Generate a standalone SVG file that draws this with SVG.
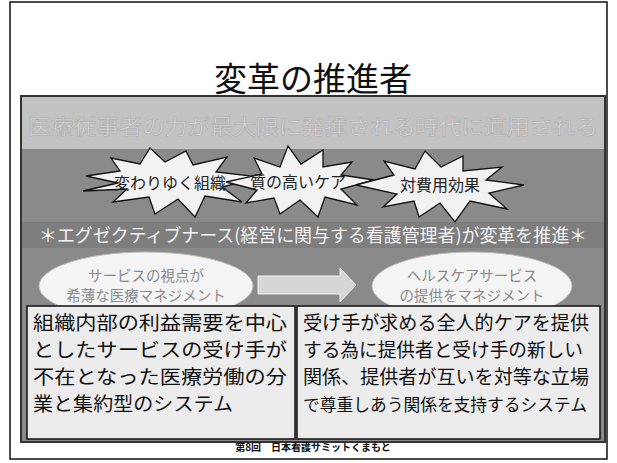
<svg xmlns="http://www.w3.org/2000/svg" width="617" height="463" viewBox="0 0 617 463">
<style>
text{font-family:"Noto Sans CJK JP","Noto Sans CJK SC",sans-serif;}
.star{fill:#f2f2f2;stroke:#111;stroke-width:1.3;stroke-linejoin:miter;}
.starT{font-size:16px;fill:#222;text-anchor:middle;}
.ell{fill:#f4f4f4;stroke:#bbb;stroke-width:1;}
.ellT{font-size:14.5px;fill:#8a8a8a;text-anchor:middle;}
.box{fill:#ececec;stroke:#111;stroke-width:1.5;}
.boxT{font-size:19px;fill:#111;}
</style>
<rect x="0" y="0" width="617" height="463" fill="#ffffff"/>
<rect x="10" y="2" width="597" height="457" fill="#ffffff" stroke="#111" stroke-width="1.5"/>
<g id="title">
<text x="313" y="91" font-size="33" text-anchor="middle" fill="#111">変革の推進者</text>
</g>
<g id="panel">
<rect x="21" y="96" width="584" height="346" fill="#8a8a8a" stroke="#333" stroke-width="2"/>
<rect x="22" y="97" width="582" height="52" fill="#c2c2c2"/>
<rect x="22" y="222" width="582" height="26" fill="#7e7e7e"/>
</g>
<g id="banner">
<text x="313" y="134" font-size="21" text-anchor="middle" fill="#d4d4d4" stroke="#acacac" stroke-width="0.5" textLength="570" lengthAdjust="spacingAndGlyphs">医療従事者の力が最大限に発揮される時代に適用される</text>
</g>
<g id="star1">
<polygon class="star" points="86,176 120,171 111,158 140,164 150,148 165,162 186,151 193,165 227,157 216,172 260,177 222,187 242,202 205,196 195,217 178,199 155,214 149,197 113,202 127,189 83,191 118,183"/>
<text class="starT" x="170" y="189">変わりゆく組織</text>
</g>
<g id="star2">
<polygon class="star" points="226,182 262,174 254,158 280,167 288,146 301,164 323,150 323,167 352,162 341,175 374,180 341,189 357,205 325,197 318,217 300,200 280,214 274,198 246,203 257,190"/>
<text class="starT" x="298" y="188">質の高いケア</text>
</g>
<g id="star3">
<polygon class="star" points="356,185 394,175 384,161 415,169 425,151 441,167 463,156 463,171 502,167 486,180 524,185 489,193 507,209 470,201 455,222 440,203 419,217 414,201 383,207 397,194"/>
<text class="starT" x="440" y="191">対費用効果</text>
</g>
<g id="exec">
<text x="313" y="242" font-size="18" fill="#f4f4f4" text-anchor="middle" textLength="548" lengthAdjust="spacingAndGlyphs">＊エグゼクティブナース(経営に関与する看護管理者)が変革を推進＊</text>
</g>
<g id="ellipse-left">
<ellipse class="ell" cx="146" cy="286" rx="107" ry="34"/>
<text class="ellT" x="146" y="281">サービスの視点が</text>
<text class="ellT" x="146" y="301">希薄な医療マネジメント</text>
</g>
<g id="ellipse-right">
<ellipse class="ell" cx="472" cy="286" rx="100" ry="34"/>
<text class="ellT" x="472" y="281">ヘルスケアサービス</text>
<text class="ellT" x="472" y="301">の提供をマネジメント</text>
</g>
<g id="connectors">
<polygon points="258,276 340,276 340,268 356,285 340,302 340,294 258,294" fill="#d6d6d6" stroke="#f0f0f0" stroke-width="1"/>
</g>
<g id="box-left">
<rect class="box" x="27" y="306" width="268" height="133"/>
<text class="boxT" x="33" y="330" textLength="254" lengthAdjust="spacingAndGlyphs">組織内部の利益需要を中心</text>
<text class="boxT" x="33" y="357" textLength="254" lengthAdjust="spacingAndGlyphs">としたサービスの受け手が</text>
<text class="boxT" x="33" y="384" textLength="254" lengthAdjust="spacingAndGlyphs">不在となった医療労働の分</text>
<text class="boxT" x="33" y="411" textLength="200" lengthAdjust="spacingAndGlyphs">業と集約型のシステム</text>
</g>
<g id="box-right">
<rect class="box" x="297" y="306" width="303" height="133"/>
<text class="boxT" x="303" y="330" textLength="286" lengthAdjust="spacingAndGlyphs">受け手が求める全人的ケアを提供</text>
<text class="boxT" x="303" y="357" textLength="280" lengthAdjust="spacingAndGlyphs">する為に提供者と受け手の新しい</text>
<text class="boxT" x="303" y="384" textLength="286" lengthAdjust="spacingAndGlyphs">関係、提供者が互いを対等な立場</text>
<text class="boxT" x="303" y="411" font-size="17" style="font-size:17px" textLength="284" lengthAdjust="spacingAndGlyphs">で尊重しあう関係を支持するシステム</text>
</g>
<g id="footer">
<text x="313" y="451" font-size="10" font-weight="bold" fill="#111" text-anchor="middle">第8回　日本看護サミットくまもと</text>
</g>
</svg>
